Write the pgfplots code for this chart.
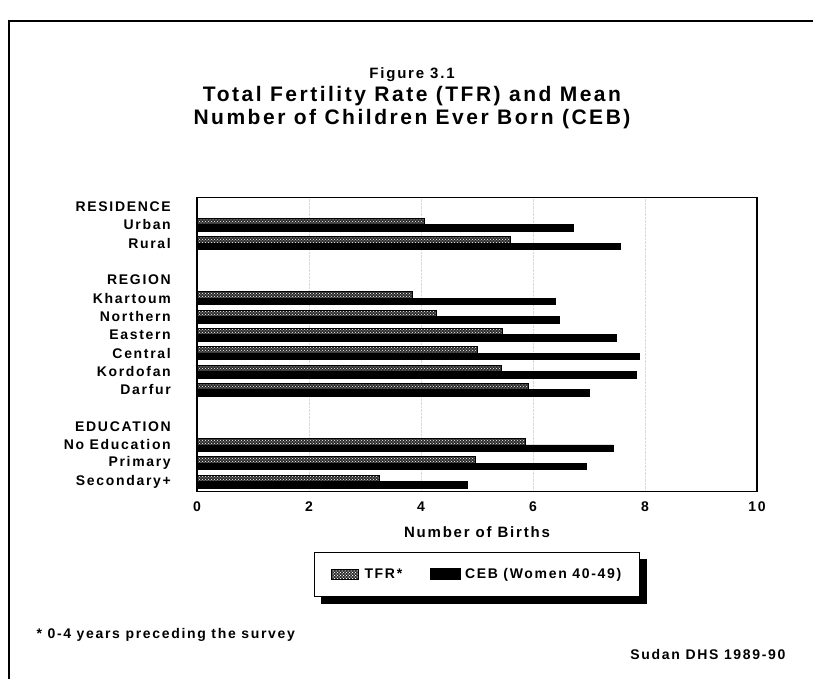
\documentclass[border=0pt]{standalone}
\usepackage{fontspec}
\setmainfont{Liberation Sans}[LetterSpace=12]
\usepackage{pgfplots}
\usepackage{pgfplotstable}
\pgfplotsset{compat=1.18}
\usetikzlibrary{patterns}

\pgfplotstableread{
y tfr ceb
0 4.06 6.72
1 5.59 7.56
4 3.85 6.40
5 4.28 6.48
6 5.45 7.49
7 5.00 7.90
8 5.43 7.84
9 5.92 7.00
12 5.87 7.43
13 4.97 6.96
14 3.26 4.83
}\datatable

\newcommand{\fL}{\fontsize{14}{16}\selectfont\bfseries}
\tikzset{
  tfrstyle/.style={draw=black, line width=0.8pt, fill=black!82, postaction={pattern=crosshatch dots, pattern color=white}},
  cebstyle/.style={draw=black, line width=0.8pt, fill=black},
}

\begin{document}
\begin{tikzpicture}
\path[use as bounding box] (0pt,0pt) rectangle (813pt,679pt);
\draw[line width=1.3pt] (9pt,0pt) -- (9pt,658pt) -- (813pt,658pt);
\begin{axis}[
  at={(197pt,187.3pt)}, anchor=south west,
  scale only axis, width=560pt, height=294.4pt,
  xmin=0, xmax=10, ymin=-1.5, ymax=14.55, y dir=reverse,
  xbar, bar width=6.4pt,
  xtick={0,2,4,6,8,10},
  ytick={-1,0,1,3,4,5,6,7,8,9,11,12,13,14},
  yticklabels={RESIDENCE,Urban,Rural,REGION,Khartoum,Northern,Eastern,Central,Kordofan,Darfur,EDUCATION,No Education,Primary,Secondary+},
  major tick length=0pt,
  axis line style={line width=1.1pt},
  xmajorgrids, grid style={densely dotted, black!15, line width=0.4pt},
  tick label style={font=\fL},
  /pgf/number format/assume math mode=true,
  yticklabel style={inner xsep=0pt, xshift=-26pt},
  xticklabel style={yshift=-6.6pt},
  xlabel={Number of Births},
  xlabel style={font=\fontsize{15}{17}\selectfont\bfseries, at={(axis description cs:0.5,-0.137)}, anchor=center},
  legend style={name=legbox, at={(0.5,-0.2048)}, anchor=north, legend columns=2, draw=black, line width=0.9pt, fill=white,
    font=\fL, inner xsep=16pt, inner ysep=14pt,
    /tikz/every even column/.append style={column sep=26pt}},
  legend cell align=left,
]
\addplot[tfrstyle, bar shift=3.2pt,
  legend image code/.code={\draw[tfrstyle] (0pt,-5pt) rectangle (27pt,5pt);}]
  table[x=tfr, y=y] {\datatable};
\addplot[cebstyle, bar shift=-3.2pt,
  legend image code/.code={\draw[cebstyle] (0pt,-5.5pt) rectangle (30pt,5.5pt);}]
  table[x=ceb, y=y] {\datatable};
\legend{\hspace{4pt}TFR*, \hspace{2pt}CEB (Women 40-49)}
\end{axis}
\fill[black] ([xshift=0.45pt,yshift=-7pt]legbox.north east) rectangle ([xshift=7.5pt,yshift=-7.5pt]legbox.south east);
\fill[black] ([xshift=7pt,yshift=-0.45pt]legbox.south west) rectangle ([xshift=7.5pt,yshift=-7.5pt]legbox.south east);
\node[anchor=base, font=\fontsize{15}{17}\selectfont\bfseries] at (412pt,600pt) {Figure 3.1};
\node[anchor=base, font=\fontsize{21}{23}\selectfont\bfseries] at (412pt,577pt) {Total Fertility Rate (TFR) and Mean};
\node[anchor=base, font=\fontsize{21}{23}\selectfont\bfseries] at (412pt,554pt) {Number of Children Ever Born (CEB)};
\node[anchor=base west, font=\fL] at (33pt,40pt) {* 0-4 years preceding the survey};
\node[anchor=base east, font=\fL] at (789pt,19pt) {Sudan DHS 1989-90};
\end{tikzpicture}
\end{document}
